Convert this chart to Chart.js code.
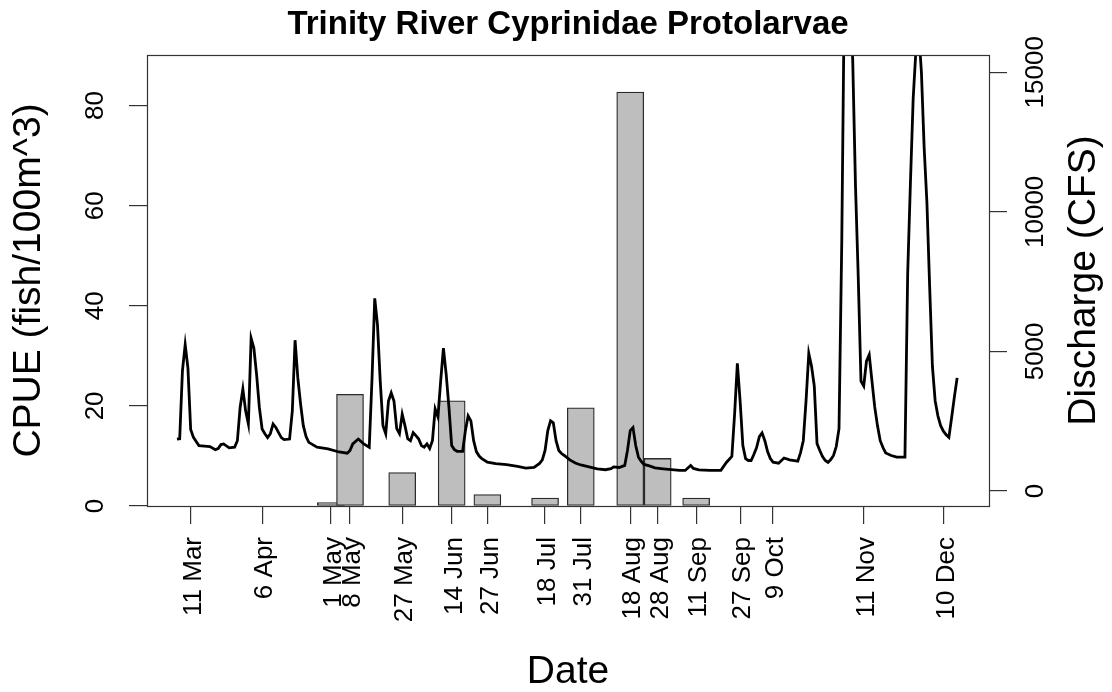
<!DOCTYPE html>
<html>
<head>
<meta charset="utf-8">
<script src="https://cdn.jsdelivr.net/npm/chart.js@4.4.0/dist/chart.umd.min.js"></script>
<style>
html, body { margin: 0; padding: 0; background: #fff; }
</style>
</head>
<body>
<canvas id="fishChart" width="1112" height="692"></canvas>
<script>
// sampling dates and larval catch
const sampleDates = ['11 Mar', '6 Apr', '1 May', '8 May', '27 May', '14 Jun', '27 Jun', '18 Jul',
                     '31 Jul', '18 Aug', '28 Aug', '11 Sep', '27 Sep', '9 Oct', '11 Nov', '10 Dec'];
const cpue = [0, 0, 0.7, 22.3, 6.7, 21.0, 2.3, 1.6, 19.6, 82.7, 9.5, 1.6, 0, 0, 0, 0];

// daily discharge (day of year, cfs)
const flowDay = [65, 66, 67, 68, 69, 70, 71, 72, 73, 75, 77, 79, 80, 81, 82, 84, 86, 87, 88, 89,
  90, 91, 92, 93, 94, 95, 96, 97, 98, 99, 100, 101, 102, 103, 104, 106, 107, 108, 109, 110,
  111, 112, 113, 116, 120, 124, 127, 128, 129, 131, 133, 135, 136, 137, 138, 139, 140, 141, 142, 143,
  144, 145, 146, 147, 148, 149, 150, 151, 152, 153, 154, 155, 156, 157, 158, 159, 160, 161, 162, 163,
  164, 165, 166, 167, 169, 170, 171, 172, 173, 174, 175, 176, 178, 181, 185, 189, 192, 195, 197, 198,
  199, 200, 201, 202, 203, 204, 205, 206, 208, 210, 212, 215, 218, 221, 223, 224, 226, 228, 229, 230,
  231, 232, 233, 234, 235, 237, 239, 242, 245, 248, 250, 252, 253, 255, 259, 263, 265, 267, 268, 269,
  270, 271, 272, 273, 274, 275, 276, 277, 278, 279, 280, 281, 282, 284, 286, 288, 291, 292, 293, 294,
  295, 296, 297, 298, 299, 300, 301, 302, 303, 304, 305, 306, 307, 308, 309, 310, 311, 312, 313, 314,
  315, 316, 317, 318, 319, 320, 321, 322, 323, 325, 327, 330, 331, 332, 333, 334, 335, 336, 337, 338,
  339, 340, 341, 342, 343, 344, 345, 346, 347, 348, 349];
const flowCfs = [1860, 1870, 4300, 5240, 4400, 2200, 1920, 1770, 1625, 1607, 1590, 1480, 1520, 1660, 1685, 1543, 1570, 1800, 2990, 3650,
  2870, 2400, 5475, 5120, 4170, 2990, 2220, 2050, 1910, 2050, 2400, 2275, 2090, 1910, 1840, 1860, 2870, 5400, 4050, 3120,
  2340, 1945, 1740, 1570, 1510, 1395, 1350, 1450, 1685, 1860, 1685, 1565, 4000, 6900, 5950, 3935, 2340, 2050, 3220, 3510,
  3220, 2230, 2050, 2750, 2340, 1870, 1800, 2090, 1980, 1860, 1625, 1565, 1685, 1520, 1800, 2940, 2655, 3935, 5120, 4185,
  3010, 1625, 1480, 1420, 1420, 2160, 2690, 2510, 1800, 1410, 1250, 1160, 1030, 975, 940, 880, 820, 840, 985, 1110,
  1450, 2160, 2510, 2440, 1800, 1450, 1340, 1270, 1110, 1000, 930, 860, 790, 760, 795, 860, 840, 915, 1450, 2160,
  2270, 1625, 1210, 1055, 950, 895, 825, 790, 760, 735, 735, 915, 805, 755, 735, 735, 1020, 1235, 2760, 4575,
  3225, 1625, 1160, 1090, 1090, 1305, 1555, 1945, 2080, 1800, 1410, 1160, 1030, 995, 1180, 1115, 1065, 1375, 1800, 3225,
  4930, 4470, 3760, 1695, 1450, 1235, 1090, 1020, 1125, 1270, 1590, 2230, 8900, 18500, 19500, 18000, 15400, 10940, 7670, 3935,
  3760, 4650, 4880, 3935, 3010, 2340, 1800, 1555, 1360, 1270, 1210, 1210, 7800, 11040, 14060, 15800, 16500, 15000, 12290, 10335,
  7310, 4470, 3225, 2690, 2340, 2140, 2015, 1920, 2630, 3370, 4050];

const cpueTicks = [0, 20, 40, 60, 80];
const cfsTicks = [0, 5000, 10000, 15000];

const monthStart = { Jan: 0, Feb: 31, Mar: 59, Apr: 90, May: 120, Jun: 151, Jul: 181, Aug: 212, Sep: 243, Oct: 273, Nov: 304, Dec: 334 };
function dayOfYear(label) {
    const parts = label.split(' ');
    return monthStart[parts[1]] + Number(parts[0]);
}
const sampleDays = sampleDates.map(dayOfYear);

Chart.defaults.font.family = '"Liberation Sans", Arial, sans-serif';
Chart.defaults.color = '#000';

// box around the plot and the right-hand axis title
const framePlugin = {
    id: 'frame',
    afterDatasetsDraw(chart) {
        const { ctx, chartArea: a } = chart;
        ctx.save();
        ctx.strokeStyle = '#333';
        ctx.lineWidth = 1.2;
        ctx.strokeRect(Math.round(a.left) + 0.5, Math.round(a.top) + 0.5,
                       Math.round(a.right - a.left), Math.round(a.bottom - a.top));
        ctx.restore();
    },
    afterDraw(chart) {
        const s = chart.scales.y1, a = chart.chartArea, ctx = chart.ctx;
        ctx.save();
        ctx.translate(s.right - 17, (a.top + a.bottom) / 2);
        ctx.rotate(-Math.PI / 2);
        ctx.font = '39px "Liberation Sans", Arial, sans-serif';
        ctx.fillStyle = '#000';
        ctx.textAlign = 'center';
        ctx.textBaseline = 'alphabetic';
        ctx.fillText('Discharge (CFS)', 0, 0);
        ctx.restore();
    }
};

const ctx = document.getElementById('fishChart').getContext('2d');
const myChart = new Chart(ctx, {
    type: 'bar',
    data: {
        datasets: [{
            type: 'line',
            label: 'Discharge',
            data: flowDay.map((d, i) => ({ x: d, y: flowCfs[i] })),
            yAxisID: 'y1',
            borderColor: '#000',
            borderWidth: 2.8,
            pointRadius: 0,
            tension: 0,
            order: 0
        }, {
            type: 'bar',
            label: 'CPUE',
            data: sampleDays.map((d, i) => ({ x: d, y: cpue[i] })),
            yAxisID: 'y',
            backgroundColor: '#BEBEBE',
            borderColor: '#2b2b2b',
            borderWidth: 1.3,
            borderSkipped: false,
            barThickness: 27,
            order: 1
        }]
    },
    options: {
        responsive: false,
        animation: false,
        devicePixelRatio: 1,
        layout: { padding: 0 },
        plugins: {
            legend: { display: false },
            tooltip: { enabled: false },
            title: {
                display: true,
                text: 'Trinity River Cyprinidae Protolarvae',
                fullSize: false,
                color: '#000',
                font: { size: 33, weight: 'bold', lineHeight: 1.2 },
                padding: { top: 5.2, bottom: 10.2 }
            }
        },
        scales: {
            x: {
                type: 'linear',
                position: 'bottom',
                min: 54.1,
                max: 360.6,
                offset: false,
                afterBuildTicks: s => { s.ticks = sampleDays.map(v => ({ value: v })); },
                afterFit: s => { s.height = 186; },
                ticks: {
                    autoSkip: false,
                    minRotation: 90,
                    maxRotation: 90,
                    padding: 13,
                    labelOffset: 3,
                    font: { size: 26 },
                    callback: (v, i) => sampleDates[i]
                },
                grid: { drawOnChartArea: false, offset: false, tickLength: 18, color: '#333', lineWidth: 1.2 },
                border: { display: false },
                title: { display: true, text: 'Date', font: { size: 39, lineHeight: 1 }, padding: { top: 0, bottom: 0 } }
            },
            y: {
                position: 'left',
                min: 0,
                max: 90.1,
                afterBuildTicks: s => { s.ticks = cpueTicks.map(v => ({ value: v })); },
                afterFit: s => { s.width = 147; },
                ticks: {
                    minRotation: 90,
                    maxRotation: 90,
                    crossAlign: 'center',
                    padding: 18.5,
                    font: { size: 26 },
                    callback: v => String(v)
                },
                grid: { drawOnChartArea: false, tickLength: 18, color: '#333', lineWidth: 1.2 },
                border: { display: false },
                title: { display: true, text: 'CPUE (fish/100m^3)', font: { size: 39, lineHeight: 1.2 }, padding: { top: 5.6, bottom: 0 } }
            },
            y1: {
                position: 'right',
                min: -540,
                max: 15620,
                afterBuildTicks: s => { s.ticks = cfsTicks.map(v => ({ value: v })); },
                afterFit: s => { s.width = 123; },
                ticks: {
                    minRotation: 90,
                    maxRotation: 90,
                    crossAlign: 'center',
                    padding: -7.1,
                    font: { size: 26 },
                    callback: v => String(v)
                },
                grid: { drawOnChartArea: false, tickLength: 18, color: '#333', lineWidth: 1.2 },
                border: { display: false }
            }
        }
    },
    plugins: [framePlugin]
});
</script>
</body>
</html>
